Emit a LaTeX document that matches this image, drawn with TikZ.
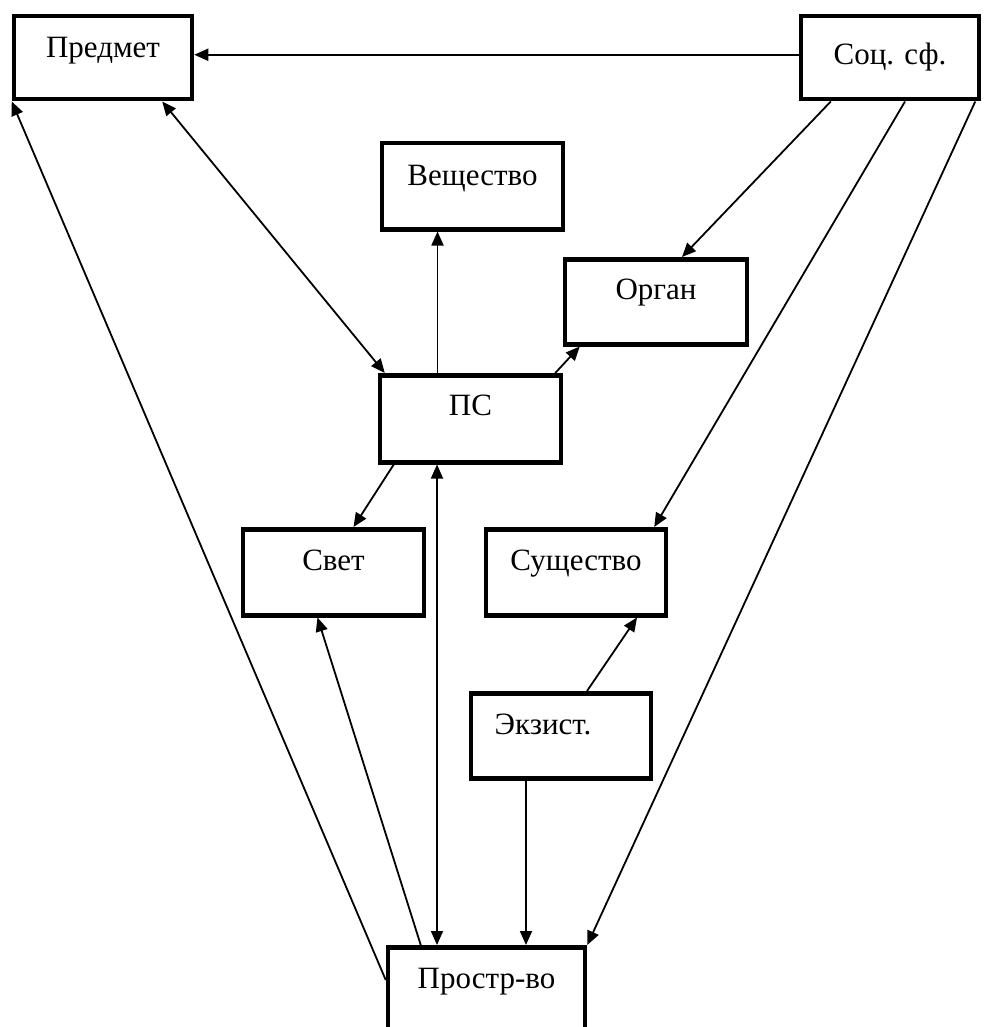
\documentclass[tikz,border=0pt]{standalone}
\usepackage{fontspec}
\setmainfont{Liberation Serif}
\usetikzlibrary{arrows.meta,calc}
\begin{document}
\begin{tikzpicture}[x=1pt,y=-1pt,
  box/.style={draw,line width=4.5pt,inner sep=0pt,anchor=north,
    font=\fontsize{31}{36}\selectfont},
  conn/.style={line width=1.8pt,-{Triangle[length=14pt,width=12pt]}},
  bconn/.style={line width=1.8pt,{Triangle[length=14pt,width=12pt]}-{Triangle[length=14pt,width=12pt]}}]
\useasboundingbox (0,0) rectangle (983,1027);
\node[box,minimum width=178pt,text height=41pt,text depth=42pt] (predmet) at (103,14) {Предмет};
\node[box,minimum width=178pt,text height=48pt,text depth=35pt] (soc) at (890,14) {Соц. сф.};
\node[box,minimum width=181pt,text height=42pt,text depth=44pt] (vesh) at (472.5,141) {Вещество};
\node[box,minimum width=182pt,text height=40pt,text depth=45pt] (organ) at (656,257) {Орган};
\node[box,minimum width=181pt,text height=40pt,text depth=47pt] (ps) at (470.5,373) {ПС};
\node[box,minimum width=181pt,text height=41pt,text depth=45pt] (svet) at (333.5,527) {Свет};
\node[box,minimum width=180pt,text height=41pt,text depth=45pt] (sush) at (576,527) {Существо};
\node[box,minimum width=180pt,text height=41pt,text depth=44pt] (ekz) at (561,691) {Экзист.\hspace*{36pt}};
\node[box,minimum width=197pt,text height=41pt,text depth=80pt] (prostr) at (486.5,945) {Простр-во};

% connectors
\draw[conn] ([yshift=3pt]soc.west) -- ([yshift=3pt]predmet.east);
\draw[bconn] ([xshift=-32pt]predmet.south east) -- ([xshift=7pt]ps.north west);
\draw[conn] ([xshift=-33pt]ps.north) -- ([xshift=-33pt]ps.north |- vesh.south);
\draw[conn] ([xshift=-8pt]ps.north east) -- ([xshift=17pt]organ.south west);
\draw[conn] ([xshift=32pt]soc.south west) -- ([xshift=26pt]organ.north);
\draw[conn] ([xshift=15pt]soc.south) -- ([xshift=-14pt]sush.north east);
\draw[conn] ([xshift=-6pt]soc.south east) -- (prostr.north east);
\draw[conn] ([xshift=16pt]ps.south west) -- ([xshift=20pt]svet.north);
\draw[bconn] ([xshift=-33.5pt]ps.south) -- ([xshift=-33.5pt]ps.south |- prostr.north);
\draw[conn] ([xshift=35pt]prostr.north west) -- ([xshift=-16pt]svet.south);
\draw[conn] ([xshift=-35pt]ekz.south) -- ([xshift=-35pt]ekz.south |- prostr.north);
\draw[conn] ([xshift=26pt]ekz.north) -- ([xshift=61pt]sush.south);
\draw[conn] ([yshift=-35pt]prostr.north west) -- (predmet.south west);
\end{tikzpicture}
\end{document}
